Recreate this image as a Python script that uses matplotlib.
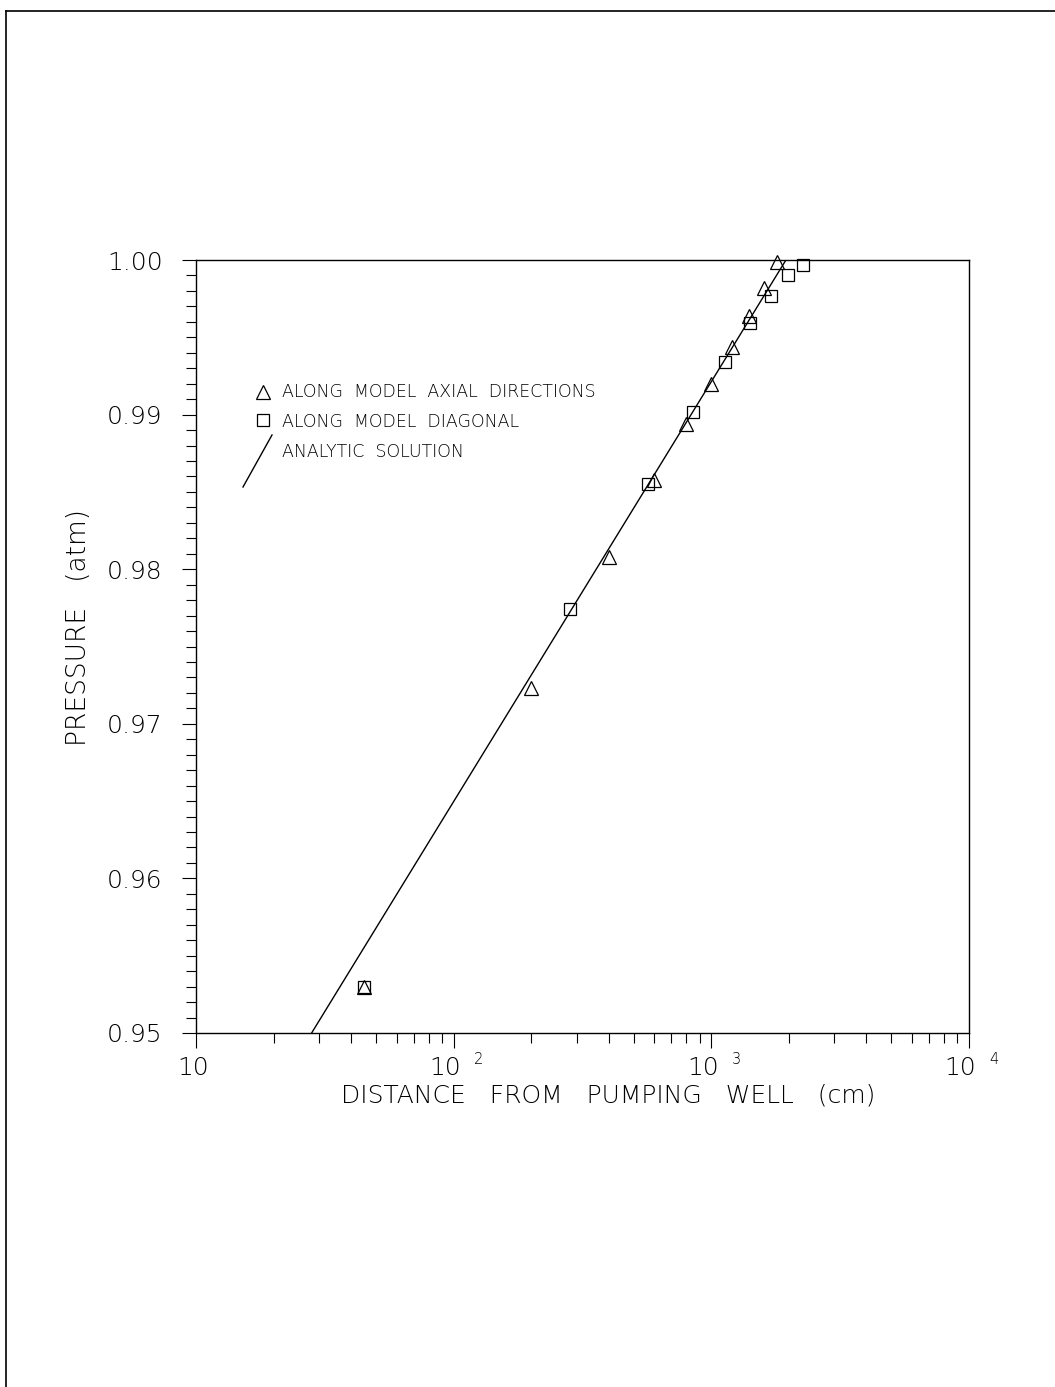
import numpy as np
import matplotlib
matplotlib.use("Agg")
import matplotlib.pyplot as plt
from matplotlib.lines import Line2D

# data
axial_x = [45, 200, 400, 600, 800, 1000, 1200, 1400, 1600, 1800]
axial_p = [0.9530, 0.9723, 0.9808, 0.9858, 0.9894, 0.9920, 0.9944, 0.9964, 0.9982, 0.9999]

diag_x = [45, 283, 566, 849, 1131, 1414, 1697, 1980, 2263]
diag_p = [0.9530, 0.9774, 0.9855, 0.9902, 0.9934, 0.9959, 0.9977, 0.9990, 0.9997]

analytic_x = [28.1, 1948]
analytic_p = [0.950, 1.000]

yticks = [0.95, 0.96, 0.97, 0.98, 0.99, 1.00]
ytick_labels = ["0.95", "0.96", "0.97", "0.98", "0.99", "1.00"]
xticks = [10, 100, 1000, 10000]
xtick_exp = ["", "2", "3", "4"]

plt.rcParams['font.family'] = ['DejaVu Sans']
W, H = 1055, 1387
fig = plt.figure(figsize=(W / 100, H / 100), dpi=100)

# outer frame (top and left only)
fig.add_artist(Line2D([6 / W, 6 / W], [0, 1 - 11 / H], color='black', lw=1.2))
fig.add_artist(Line2D([6 / W, 1], [1 - 11 / H, 1 - 11 / H], color='black', lw=1.2))

ax = fig.add_axes([196 / W, 1 - 1033 / H, 773 / W, 773 / H])
ax.set_xscale('log')
ax.set_xlim(10, 10000)
ax.set_ylim(0.95, 1.00)

ax.plot(analytic_x, analytic_p, color='black', lw=1.0)
ax.plot(axial_x, axial_p, ls='none', marker='^', ms=9.5, mfc='none', mec='black', mew=0.9,
        clip_on=False)
ax.plot(diag_x, diag_p, ls='none', marker='s', ms=8.5, mfc='none', mec='black', mew=0.9,
        clip_on=False)

for s in ax.spines.values():
    s.set_linewidth(1.0)

ax.set_yticks(yticks)
ax.set_yticks(np.arange(0.95, 1.0001, 0.001), minor=True)
ax.set_yticklabels(ytick_labels, fontsize=18, fontweight='light')
ax.tick_params(axis='y', which='major', direction='out', length=10, width=0.8, pad=14)
ax.tick_params(axis='y', which='minor', direction='out', length=7.2, width=0.8)

ax.set_xticks(xticks)
ax.xaxis.set_minor_locator(matplotlib.ticker.LogLocator(base=10, subs=np.arange(2, 10)))
ax.xaxis.set_minor_formatter(matplotlib.ticker.NullFormatter())
ax.set_xticklabels([])
ax.tick_params(axis='x', which='major', direction='out', length=10.8, width=0.8)
ax.tick_params(axis='x', which='minor', direction='out', length=7.2, width=0.8)

# x tick labels as 10 with raised exponent
for xv, ex in zip(xticks, xtick_exp):
    dx = -6 if ex else -2
    ax.annotate("10", xy=(xv, 0), xycoords=('data', 'axes fraction'),
                xytext=(dx, -25), textcoords='offset points',
                ha='center', va='center', fontsize=18, fontweight='light')
    if ex:
        ax.annotate(ex, xy=(xv, 0), xycoords=('data', 'axes fraction'),
                    xytext=(18, -19), textcoords='offset points',
                    ha='center', va='center', fontsize=10.5, fontweight='light')

fig.text(608 / W, 1 - 1095 / H, "DISTANCE   FROM   PUMPING   WELL   (cm)",
         ha='center', va='center', fontsize=18, fontweight='light')
fig.text(78 / W, 1 - 628 / H, "PRESSURE   (atm)", rotation=90,
         ha='center', va='center', fontsize=19, fontweight='light')

# legend drawn by hand
fig.add_artist(Line2D([263 / W], [1 - 392 / H], ls='none', marker='^', ms=9.5,
                      mfc='none', mec='black', mew=0.9))
fig.add_artist(Line2D([263 / W], [1 - 420 / H], ls='none', marker='s', ms=8.5,
                      mfc='none', mec='black', mew=0.9))
fig.add_artist(Line2D([243 / W, 272 / W], [1 - 487 / H, 1 - 435 / H], color='black', lw=1.0))
legend_txt = ["ALONG  MODEL  AXIAL  DIRECTIONS", "ALONG  MODEL  DIAGONAL", "ANALYTIC  SOLUTION"]
for i, t in enumerate(legend_txt):
    fig.text(282 / W, 1 - (392 + 30 * i) / H, t, ha='left', va='center',
             fontsize=12.5, fontweight='light')

fig.savefig("out.png", dpi=100)
